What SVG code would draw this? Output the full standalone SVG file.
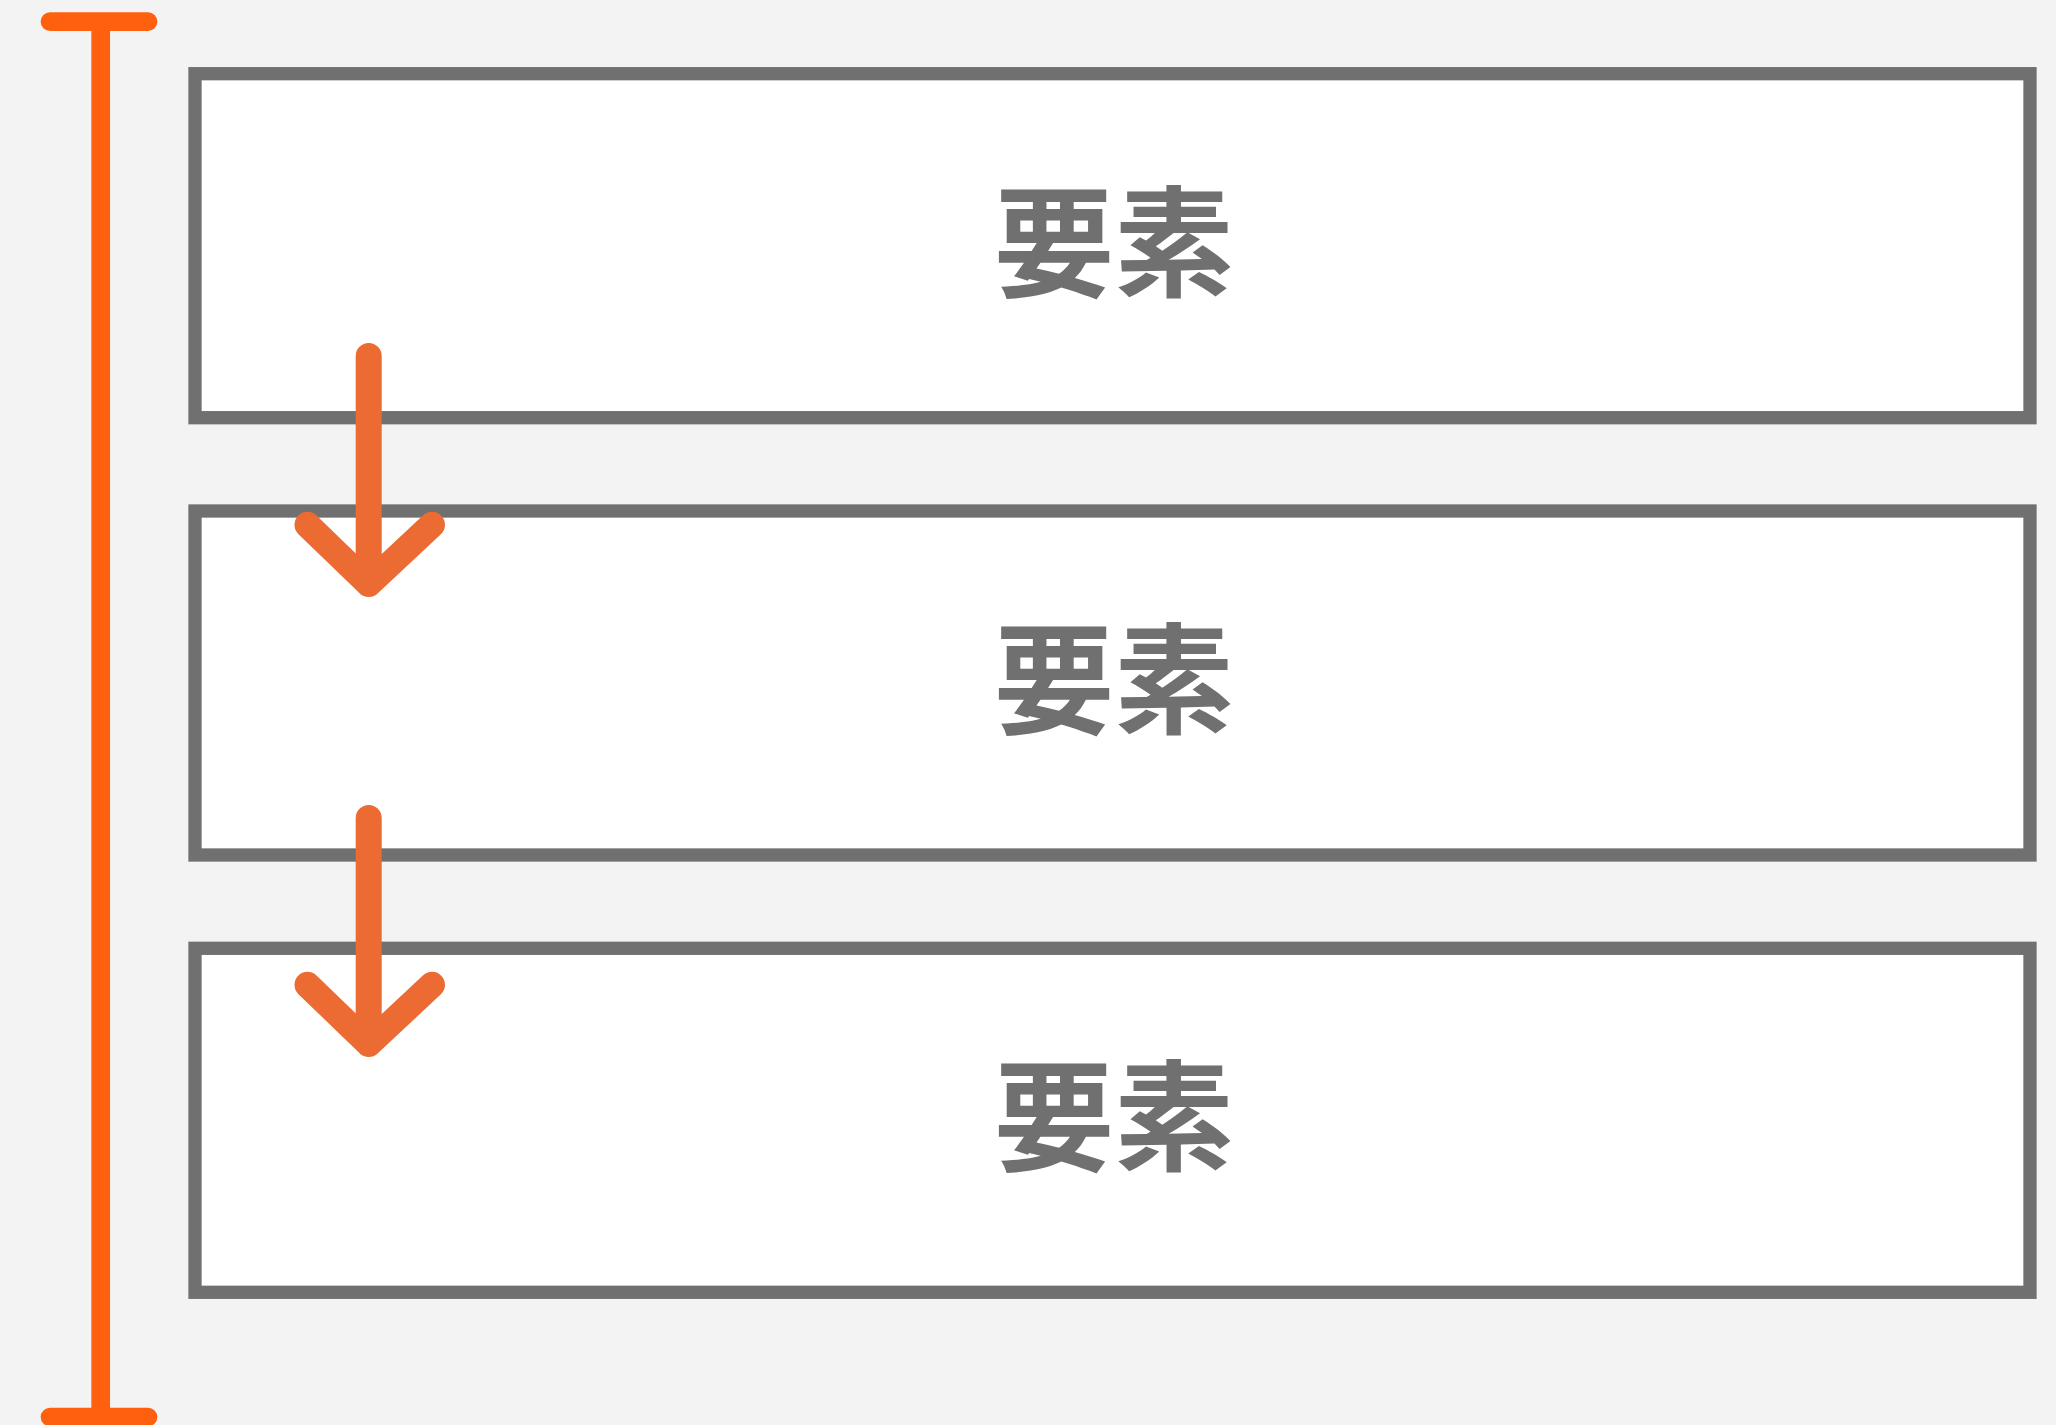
<svg xmlns="http://www.w3.org/2000/svg" width="2056" height="1425" viewBox="0 0 2056 1425">
<defs>
<style>
.box{fill:#ffffff;stroke:#707070;stroke-width:13.3}
.lbl{font-family:"Noto Sans CJK JP","Noto Sans CJK SC",sans-serif;font-weight:bold;font-size:120px;fill:#707070;text-anchor:middle}
.scale{stroke:#FF600E;stroke-width:18.7;stroke-linecap:round;fill:none}
.arrow{stroke:#EB6B33;stroke-width:26;stroke-linecap:round;stroke-linejoin:round;fill:none}
</style>
</defs>
<rect width="2056" height="1425" fill="#F3F3F3"/>
<g id="node1">
<rect class="box" x="195" y="73.7" width="1835" height="344"/>
<text class="lbl" x="1114" y="288">要素</text>
</g>
<g id="node2">
<rect class="box" x="195" y="511" width="1835" height="344"/>
<text class="lbl" x="1114" y="725">要素</text>
</g>
<g id="node3">
<rect class="box" x="195" y="948.3" width="1835" height="344"/>
<text class="lbl" x="1114" y="1162">要素</text>
</g>
<g id="connectors">
<path class="scale" d="M100.7 21.7 V1417 M50 21.7 H148 M50 1417 H148"/>
<path class="arrow" d="M368.7 356 V584 M307.5 524.8 L368.7 584 L432 524.8"/>
<path class="arrow" d="M368.7 818 V1044 M307.5 984.8 L368.7 1044 L432 984.8"/>
</g>
</svg>
